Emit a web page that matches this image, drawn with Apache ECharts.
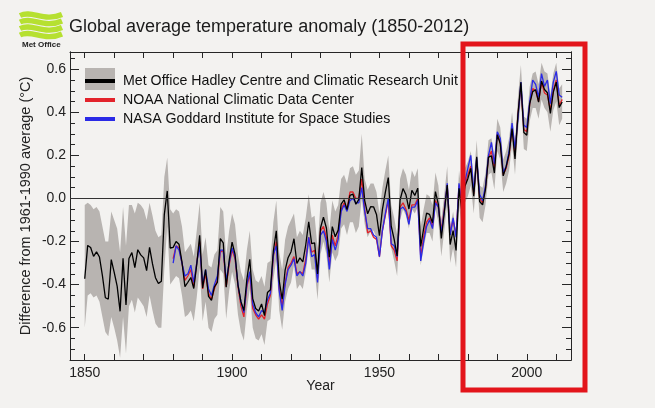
<!DOCTYPE html>
<html><head><meta charset="utf-8">
<script src="https://cdn.jsdelivr.net/npm/echarts@6/dist/echarts.min.js"></script>
<style>html,body{margin:0;padding:0;background:#f3f2f0}#c{width:655px;height:408px}</style>
</head><body><div id="c"></div>
<script>
// ---- data (annual anomalies, °C, relative to 1961-1990) ----
const hadStartYear = 1850;
const hadcrut = [
 -0.373,-0.218,-0.228,-0.269,-0.248,-0.272,-0.358,-0.461,-0.467,-0.284,
 -0.343,-0.407,-0.524,-0.278,-0.494,-0.279,-0.251,-0.321,-0.238,-0.262,
 -0.276,-0.335,-0.227,-0.304,-0.368,-0.395,-0.384,-0.075,0.035,-0.230,
 -0.227,-0.200,-0.213,-0.296,-0.409,-0.389,-0.367,-0.418,-0.307,-0.171,
 -0.416,-0.330,-0.455,-0.473,-0.410,-0.390,-0.186,-0.206,-0.412,-0.289,
 -0.203,-0.259,-0.402,-0.479,-0.520,-0.377,-0.283,-0.465,-0.511,-0.522,
 -0.490,-0.544,-0.437,-0.424,-0.244,-0.150,-0.383,-0.468,-0.333,-0.275,
 -0.247,-0.187,-0.302,-0.276,-0.294,-0.215,-0.108,-0.210,-0.206,-0.350,
 -0.137,-0.087,-0.137,-0.273,-0.131,-0.178,-0.147,-0.026,-0.006,-0.052,
 0.014,0.020,-0.027,-0.004,0.144,-0.010,-0.071,-0.038,-0.039,-0.074,
 -0.173,-0.052,0.028,0.097,-0.129,-0.190,-0.267,-0.007,0.046,0.017,
 -0.049,0.038,0.014,0.048,-0.223,-0.140,-0.068,-0.074,-0.113,0.032,
 -0.027,-0.186,-0.065,0.062,-0.214,-0.149,-0.241,0.047,-0.062,0.057,
 0.092,0.140,0.011,0.194,-0.014,-0.030,0.045,0.192,0.198,0.118,
 0.296,0.254,0.105,0.148,0.208,0.325,0.183,0.390,0.539,0.306,
 0.294,0.441,0.496,0.505,0.447,0.545,0.506,0.491,0.395,0.494,
 0.540,0.422,0.448
];
const bandHigh = [
 -0.03,-0.02,-0.03,-0.05,-0.04,-0.06,-0.13,-0.20,-0.20,-0.06,
 -0.10,-0.14,-0.25,-0.04,-0.22,-0.03,-0.03,-0.07,-0.02,-0.03,
 -0.05,-0.10,-0.02,-0.08,-0.15,-0.18,-0.17,0.10,0.19,-0.05,
 -0.07,-0.05,-0.06,-0.13,-0.25,-0.23,-0.21,-0.27,-0.15,-0.02,
 -0.26,-0.18,-0.31,-0.32,-0.26,-0.24,-0.04,-0.06,-0.27,-0.15,
 -0.07,-0.12,-0.26,-0.34,-0.38,-0.24,-0.15,-0.33,-0.38,-0.39,
 -0.36,-0.41,-0.30,-0.29,-0.11,-0.01,-0.25,-0.33,-0.19,-0.13,
 -0.10,-0.07,-0.18,-0.15,-0.17,-0.09,0.02,-0.09,-0.08,-0.23,
 -0.02,0.03,-0.02,-0.15,-0.01,-0.06,-0.03,0.09,0.11,0.07,
 0.14,0.15,0.11,0.13,0.30,0.09,0.04,0.07,0.07,0.03,
 -0.07,0.05,0.13,0.20,-0.03,-0.09,-0.17,0.09,0.14,0.11,
 0.04,0.13,0.10,0.14,-0.13,-0.05,0.02,0.01,-0.03,0.12,
 0.06,-0.10,0.02,0.15,-0.13,-0.06,-0.16,0.13,0.02,0.14,
 0.17,0.22,0.09,0.27,0.06,0.05,0.12,0.27,0.28,0.20,
 0.37,0.33,0.18,0.22,0.28,0.40,0.26,0.47,0.62,0.38,
 0.37,0.52,0.58,0.59,0.53,0.63,0.59,0.58,0.48,0.58,
 0.63,0.51,0.53
];
const bandLow = [
 -0.60,-0.45,-0.44,-0.46,-0.45,-0.48,-0.55,-0.62,-0.64,-0.55,
 -0.60,-0.66,-0.74,-0.55,-0.72,-0.50,-0.47,-0.53,-0.46,-0.48,
 -0.50,-0.55,-0.45,-0.52,-0.58,-0.60,-0.60,-0.33,-0.13,-0.40,
 -0.38,-0.36,-0.37,-0.45,-0.55,-0.54,-0.52,-0.57,-0.46,-0.32,
 -0.57,-0.48,-0.60,-0.62,-0.56,-0.54,-0.33,-0.35,-0.56,-0.43,
 -0.34,-0.40,-0.54,-0.62,-0.66,-0.52,-0.42,-0.60,-0.65,-0.66,
 -0.63,-0.68,-0.57,-0.56,-0.38,-0.28,-0.52,-0.61,-0.48,-0.42,
 -0.39,-0.31,-0.42,-0.40,-0.42,-0.34,-0.23,-0.33,-0.33,-0.47,
 -0.26,-0.20,-0.26,-0.39,-0.25,-0.29,-0.26,-0.14,-0.12,-0.17,
 -0.11,-0.11,-0.16,-0.13,0.00,-0.12,-0.18,-0.15,-0.15,-0.18,
 -0.28,-0.15,-0.07,0.00,-0.23,-0.29,-0.36,-0.10,-0.05,-0.08,
 -0.14,-0.05,-0.07,-0.04,-0.31,-0.23,-0.16,-0.16,-0.20,-0.05,
 -0.11,-0.27,-0.15,-0.02,-0.30,-0.23,-0.32,-0.03,-0.14,-0.02,
 0.01,0.06,-0.07,0.12,-0.09,-0.11,-0.03,0.11,0.12,0.04,
 0.22,0.18,0.03,0.07,0.13,0.25,0.11,0.31,0.46,0.23,
 0.22,0.36,0.42,0.42,0.37,0.46,0.42,0.40,0.31,0.41,
 0.45,0.34,0.37
];
const otherStartYear = 1880;
const noaa = [
 -0.28,-0.22,-0.23,-0.30,-0.38,-0.36,-0.33,-0.41,-0.30,-0.20,
 -0.42,-0.35,-0.44,-0.47,-0.42,-0.38,-0.25,-0.24,-0.41,-0.31,
 -0.24,-0.28,-0.41,-0.50,-0.55,-0.41,-0.35,-0.51,-0.54,-0.56,
 -0.54,-0.56,-0.49,-0.45,-0.27,-0.20,-0.42,-0.50,-0.39,-0.32,
 -0.30,-0.27,-0.35,-0.34,-0.35,-0.28,-0.18,-0.25,-0.24,-0.37,
 -0.15,-0.13,-0.18,-0.31,-0.17,-0.22,-0.17,-0.05,-0.02,-0.05,
 0.03,0.03,0.00,0.00,0.09,-0.05,-0.16,-0.15,-0.18,-0.19,
 -0.27,-0.15,-0.08,-0.01,-0.22,-0.24,-0.29,-0.04,-0.02,-0.05,
 -0.10,-0.03,-0.03,0.00,-0.27,-0.18,-0.11,-0.09,-0.13,-0.01,
 -0.04,-0.15,-0.05,0.06,-0.16,-0.10,-0.17,0.06,-0.03,0.06,
 0.11,0.15,0.02,0.18,0.00,-0.02,0.05,0.19,0.22,0.14,
 0.30,0.26,0.11,0.14,0.20,0.33,0.20,0.39,0.52,0.32,
 0.31,0.44,0.51,0.50,0.45,0.54,0.49,0.48,0.41,0.50,
 0.55,0.43,0.46
];
const nasa = [
 -0.30,-0.22,-0.24,-0.30,-0.36,-0.35,-0.31,-0.39,-0.30,-0.22,
 -0.40,-0.33,-0.42,-0.45,-0.40,-0.36,-0.24,-0.24,-0.38,-0.30,
 -0.23,-0.27,-0.40,-0.48,-0.53,-0.40,-0.34,-0.49,-0.53,-0.55,
 -0.52,-0.53,-0.47,-0.44,-0.26,-0.22,-0.43,-0.52,-0.40,-0.33,
 -0.31,-0.28,-0.36,-0.34,-0.36,-0.30,-0.18,-0.27,-0.26,-0.39,
 -0.17,-0.15,-0.20,-0.33,-0.19,-0.24,-0.19,-0.06,-0.03,-0.06,
 -0.01,0.00,-0.02,-0.02,0.05,-0.06,-0.14,-0.14,-0.17,-0.18,
 -0.27,-0.15,-0.07,0.00,-0.21,-0.22,-0.27,-0.05,-0.04,-0.06,
 -0.12,-0.04,-0.04,-0.01,-0.29,-0.20,-0.13,-0.10,-0.14,-0.02,
 -0.04,-0.16,-0.06,0.07,-0.17,-0.09,-0.18,0.07,-0.02,0.08,
 0.14,0.20,0.03,0.19,0.02,-0.01,0.06,0.20,0.26,0.16,
 0.31,0.28,0.12,0.15,0.22,0.35,0.23,0.37,0.54,0.34,
 0.33,0.45,0.55,0.53,0.47,0.58,0.52,0.55,0.44,0.54,
 0.59,0.48,0.47
];
const xTickYears = [1850,1860,1870,1880,1890,1900,1910,1920,1930,1940,1950,1960,1970,1980,1990,2000,2010];
const xLabelYears = [1850,1900,1950,2000];
const yLabelValues = [-0.6,-0.4,-0.2,0,0.2,0.4,0.6];
const yMinorValues = [-0.7,-0.65,-0.6,-0.55,-0.5,-0.45,-0.4,-0.35,-0.3,-0.25,-0.2,-0.15,-0.1,-0.05,0,0.05,0.1,0.15,0.2,0.25,0.3,0.35,0.4,0.45,0.5,0.55,0.6,0.65];
const seriesNames = ['Met Office Hadley Centre and Climatic Research Unit','NOAA National Climatic Data Center','NASA Goddard Institute for Space Studies'];

// ---- build ----
const FONT = 'Liberation Sans, Arial, Helvetica, sans-serif';
const BAND = '#b8b4b1';
const toPairs = (start, arr) => arr.map((v, i) => [start + i, v]);
const bandData = hadcrut.map((v, i) => [hadStartYear + i, bandLow[i], bandHigh[i]]);

const chart = echarts.init(document.getElementById('c'), null, {renderer: 'canvas'});
const axisColor = '#262626';
const baseX = {
  type: 'value', min: 1845, max: 2015,
  axisLine: {show: true, onZero: false, lineStyle: {color: axisColor, width: 1}},
  axisTick: {show: true, inside: true, length: 6, customValues: xTickYears, lineStyle: {color: axisColor}},
  splitLine: {show: false}
};
const baseY = {
  type: 'value', min: -0.75, max: 0.68,
  axisLine: {show: true, onZero: false, lineStyle: {color: axisColor, width: 1}},
  splitLine: {show: false}
};
function wave(y0) {
  return {
    type: 'bezierCurve', z: 5,
    shape: {x1: 20, y1: y0, cpx1: 32, cpy1: y0 - 6, cpx2: 44, cpy2: y0 + 7, x2: 62, y2: y0 - 1},
    style: {stroke: '#b6e031', lineWidth: 5.2, fill: null, lineCap: 'butt'}
  };
}
const option = {
  backgroundColor: '#f3f2f0',
  animation: false,
  title: {
    text: 'Global average temperature anomaly (1850-2012)',
    left: 69, top: 18, padding: 0,
    textStyle: {fontSize: 18, fontWeight: 'normal', color: '#1b1b1b', fontFamily: FONT}
  },
  grid: {left: 70, right: 84, top: 52, bottom: 48},
  legend: {
    data: seriesNames,
    orient: 'vertical', left: 85, top: 74, padding: 0,
    itemWidth: 30, itemHeight: 4, itemGap: 5, icon: 'rect',
    selectedMode: false, z: 10,
    textStyle: {fontSize: 14.2, color: '#111', fontFamily: FONT, padding: [0, 0, 0, 3]}
  },
  xAxis: [
    Object.assign({}, baseX, {
      position: 'bottom',
      axisLabel: {show: true, customValues: xLabelYears, formatter: v => String(v), fontSize: 14, color: '#222', fontFamily: FONT, margin: 6},
      name: 'Year', nameLocation: 'middle', nameGap: 19, nameMoveOverlap: false,
      nameTextStyle: {fontSize: 14, color: '#222', fontFamily: FONT}
    }),
    Object.assign({}, baseX, {position: 'top', axisLabel: {show: false}})
  ],
  yAxis: [
    Object.assign({}, baseY, {
      position: 'left',
      axisTick: {show: true, inside: true, length: 9, customValues: yLabelValues, lineStyle: {color: axisColor}},
      axisLabel: {show: true, customValues: yLabelValues, formatter: v => Number(v).toFixed(1), fontSize: 14, color: '#222', fontFamily: FONT, margin: 4},
      name: 'Difference from 1961-1990 average (°C)', nameLocation: 'middle', nameGap: 37, nameMoveOverlap: false,
      nameTextStyle: {fontSize: 14.5, color: '#222', fontFamily: FONT}
    }),
    Object.assign({}, baseY, {
      position: 'left', offset: 0,
      axisTick: {show: true, inside: true, length: 5, customValues: yMinorValues, lineStyle: {color: axisColor}},
      axisLabel: {show: false}
    }),
    Object.assign({}, baseY, {
      position: 'right', offset: 0,
      axisTick: {show: true, inside: true, length: 9, customValues: yLabelValues, lineStyle: {color: axisColor}},
      axisLabel: {show: false}
    }),
    Object.assign({}, baseY, {
      position: 'right', offset: 0,
      axisTick: {show: true, inside: true, length: 5, customValues: yMinorValues, lineStyle: {color: axisColor}},
      axisLabel: {show: false}
    })
  ],
  series: [
    {
      type: 'custom', name: 'band', z: 1, silent: true, clip: true,
      data: bandData, encode: {x: 0, y: [1, 2]},
      renderItem: function (params, api) {
        if (params.dataIndex !== 0) return null;
        const pts = [];
        for (let i = 0; i < bandData.length; i++) pts.push(api.coord([bandData[i][0], bandData[i][2]]));
        for (let i = bandData.length - 1; i >= 0; i--) pts.push(api.coord([bandData[i][0], bandData[i][1]]));
        return {type: 'polygon', shape: {points: pts}, style: {fill: BAND, stroke: null}};
      },
      markLine: {
        silent: true, symbol: ['none', 'none'], label: {show: false},
        lineStyle: {type: 'solid', color: '#333', width: 1.2},
        data: [{yAxis: 0}]
      }
    },
    {
      type: 'line', name: seriesNames[1], z: 2, data: toPairs(otherStartYear, noaa),
      showSymbol: false, symbol: 'none', color: '#e3232b',
      lineStyle: {width: 1.3, color: '#e3232b'}
    },
    {
      type: 'line', name: seriesNames[2], z: 3, data: toPairs(otherStartYear, nasa),
      showSymbol: false, symbol: 'none', color: '#2a2ae6',
      lineStyle: {width: 1.3, color: '#2a2ae6'}
    },
    {
      type: 'line', name: seriesNames[0], z: 4, data: toPairs(hadStartYear, hadcrut),
      showSymbol: false, symbol: 'none', color: '#000',
      lineStyle: {width: 1.3, color: '#000'}
    }
  ],
  graphic: [
    {type: 'rect', z: 5, shape: {x: 85, y: 68, width: 30, height: 22}, style: {fill: BAND}},
    wave(15.5), wave(22), wave(28.5), wave(35),
    {type: 'text', z: 5, left: 22, top: 41, style: {text: 'Met Office', font: 'bold 8px ' + FONT, fill: '#222'}},
    {type: 'rect', z: 100, shape: {x: 463, y: 44, width: 122, height: 346}, style: {fill: 'none', stroke: '#e3151b', lineWidth: 5}}
  ]
};
chart.setOption(option);
</script>
</body></html>
